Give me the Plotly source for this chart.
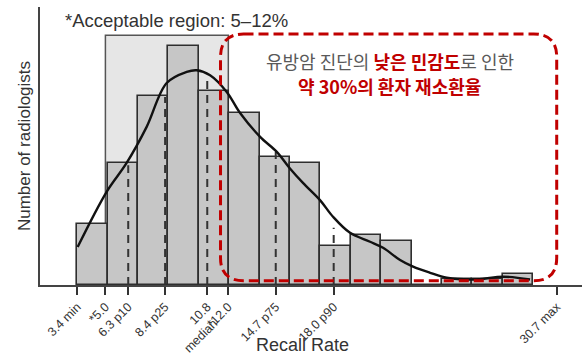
import plotly.graph_objects as go

# ---------------- data ----------------
bin_start = 3.4
bin_width = 1.731
counts = [11, 22, 34, 43, 35, 31, 23, 22, 7, 9, 8, 0, 1, 1, 2]

# density curve (in count units)
curve_x = [3.42, 5.07, 6.21, 7.35, 8.49, 9.63, 10.20, 10.96, 11.91, 12.67, 13.81,
           14.76, 15.51, 16.25, 17.22, 17.96, 18.93, 20.07, 20.81, 21.78, 22.52,
           23.49, 24.44, 26.15, 27.64, 29.18]
curve_y = [6.85, 16.8, 22.0, 28.5, 36.4, 38.4, 38.7, 37.8, 34.8, 31.0, 26.7,
           24.0, 21.0, 18.4, 15.3, 12.3, 9.4, 7.8, 6.7, 4.5, 3.3,
           2.2, 1.3, 1.0, 1.5, 1.0]

# percentile markers (value, height of dashed line)
pct_vals = [6.3, 8.4, 10.8, 14.7, 18.0]
pct_heights = [21.6, 33.9, 37.1, 24.0, 10.3]

acceptable = [5.0, 12.0]
acceptable_top = 45.0

tick_vals = [3.4, 5.0, 6.3, 8.4, 10.8, 12.0, 14.7, 18.0, 30.7]
tick_text = ["3.4 min", "*5.0", "6.3 p10", "8.4 p25", "10.8<br>median\u00a0\u00a0", "*12.0",
             "14.7 p75", "18.0 p90", "30.7 max"]

# ---------------- figure ----------------
bin_centers = [bin_start + bin_width * (i + 0.5) for i in range(len(counts))]

fig = go.Figure()
fig.add_trace(go.Bar(
    x=bin_centers, y=counts, width=bin_width,
    marker=dict(color="#c6c6c6", line=dict(color="#2e2e2e", width=1.6)),
    hoverinfo="x+y", showlegend=False,
))

for v, h in zip(pct_vals, pct_heights):
    fig.add_trace(go.Scatter(
        x=[v, v], y=[0, h], mode="lines",
        line=dict(color="#333333", width=2, dash="8px,6px"),
        showlegend=False, hoverinfo="skip",
    ))

fig.add_trace(go.Scatter(
    x=curve_x, y=curve_y, mode="lines",
    line=dict(color="#111111", width=2.4, shape="spline", smoothing=1.0),
    showlegend=False, hoverinfo="skip",
))

# acceptable region background
fig.add_shape(type="rect", xref="x", yref="y",
              x0=acceptable[0], x1=acceptable[1], y0=0, y1=acceptable_top,
              fillcolor="#e6e6e6", line=dict(color="#555555", width=1.5),
              layer="below")

# red dashed rounded box
L, R, T, B = 11.555, 30.7, 45.23, 0.77
rx, ry = 1.31, 4.14
path = (f"M {L+rx},{T} L {R-rx},{T} Q {R},{T} {R},{T-ry} "
        f"L {R},{B+ry} Q {R},{B} {R-rx},{B} "
        f"L {L+rx},{B} Q {L},{B} {L},{B+ry} "
        f"L {L},{T-ry} Q {L},{T} {L+rx},{T} Z")
fig.add_shape(type="path", xref="x", yref="y", path=path,
              line=dict(color="#c00000", width=3, dash="10px,5px"),
              layer="above")

RED = "#c00000"
GRAY = "#595959"
KFONT = "Noto Sans CJK KR"
fig.add_annotation(x=21.2, y=40.4, xref="x", yref="y", showarrow=False,
                   text=(f"유방암 진단의 <span style='color:{RED}'><b>낮은 민감도</b></span>로 인한"),
                   font=dict(family=KFONT, size=18, color=GRAY))
fig.add_annotation(x=21.2, y=35.8, xref="x", yref="y", showarrow=False,
                   text="<b>약 30%의 환자 재소환율</b>",
                   font=dict(family=KFONT, size=18, color=RED))

fig.add_annotation(x=2.59, y=47.7, xref="x", yref="y", showarrow=False,
                   xanchor="left", text="*Acceptable region: 5–12%",
                   font=dict(family="Liberation Sans, Arial", size=18.5, color="#333333"))

# x-axis title
fig.add_annotation(x=0.485, y=-0.215, xref="paper", yref="paper", showarrow=False,
                   xanchor="center", yanchor="middle", text="Recall Rate",
                   font=dict(family="Liberation Sans, Arial", size=18, color="#333333"))

fig.update_layout(
    width=582, height=354,
    margin=dict(l=40, r=0, t=7, b=69),
    plot_bgcolor="white", paper_bgcolor="white",
    font=dict(family="Liberation Sans, Arial", color="#333333"),
    bargap=0,
)
fig.update_xaxes(
    range=[1.276, 32.14], showgrid=False, zeroline=False, automargin=False,
    showline=True, linecolor="#444444", linewidth=1.5,
    tickvals=tick_vals, ticktext=tick_text, tickangle=-45,
    ticks="outside", ticklen=8, tickwidth=1.5, tickcolor="#333333",
    tickfont=dict(size=12.5, color="#333333"),
)
fig.update_yaxes(
    range=[0, 50.1], showgrid=False, zeroline=False, automargin=False,
    showline=True, linecolor="#444444", linewidth=1.5,
    showticklabels=False, ticks="",
    title=dict(text="Number of radiologists", font=dict(size=17, color="#333333"), standoff=3),
)

fig.write_html("out.html", config={"displayModeBar": False},
               post_script="document.body.style.margin='0';document.body.style.overflow='hidden';")
